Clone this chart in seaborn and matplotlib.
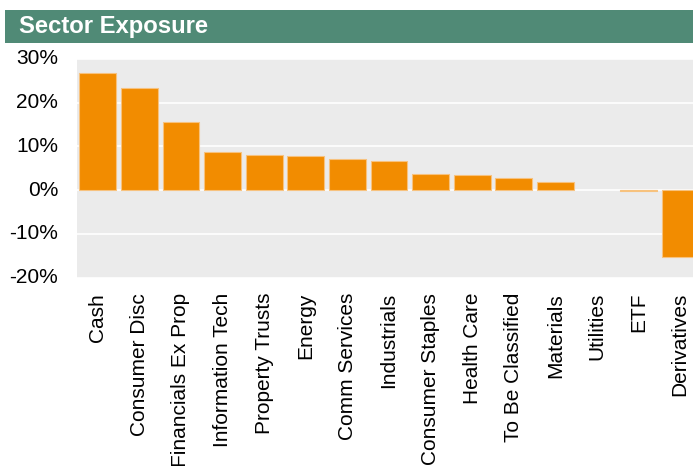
import matplotlib
matplotlib.use("Agg")
import matplotlib.pyplot as plt
import seaborn as sns
import pandas as pd
from matplotlib.patches import Rectangle
from matplotlib.ticker import FuncFormatter

categories = ["Cash", "Consumer Disc", "Financials Ex Prop", "Information Tech",
              "Property Trusts", "Energy", "Comm Services", "Industrials",
              "Consumer Staples", "Health Care", "To Be Classified", "Materials",
              "Utilities", "ETF", "Derivatives"]
values = [26.9, 23.3, 15.5, 8.7, 8.0, 7.8, 7.1, 6.6, 3.65, 3.4, 2.8, 1.9, 0.0, -0.25, -15.4]
yticks = [-20, -10, 0, 10, 20, 30]
title = "Sector Exposure"

sns.set_theme(style="darkgrid")
plt.rcParams['font.family'] = ['Liberation Sans', 'DejaVu Sans']

W, H = 693, 466
fig = plt.figure(figsize=(W / 100, H / 100), dpi=100)
fig.patch.set_facecolor("white")

# header band
fig.patches.append(Rectangle((5 / W, 1 - 43 / H), 1, 33 / H, transform=fig.transFigure,
                             facecolor="#508a76", edgecolor="none", zorder=0))
fig.text(19 / W, 1 - 26.5 / H, title, color="white", fontsize=17.2, fontweight="bold",
         va="center", ha="left")

left, right = 77, 701
top, bottom = 59, 277.5
ax = fig.add_axes([left / W, 1 - bottom / H, (right - left) / W, (bottom - top) / H])
ax.set_facecolor("#ebebeb")

df = pd.DataFrame({"sector": categories, "value": values})
sns.barplot(data=df, x="sector", y="value", color="#f28c00", saturation=1,
            width=0.88, ax=ax, edgecolor="#f7c27e", linewidth=0.8, zorder=3)
for p in ax.patches:
    if abs(p.get_height()) < 1e-9:
        p.set_visible(False)

ax.set_ylim(-20, 30)
ax.set_xlim(-0.5, len(categories) - 0.5)
ax.set_yticks(yticks)
ax.yaxis.set_major_formatter(FuncFormatter(lambda v, p: f"{v:.0f}%"))
ax.grid(axis="y", color="white", linewidth=1.2)
ax.grid(axis="x", visible=False)
ax.set_axisbelow(True)
ax.set_xlabel("")
ax.set_ylabel("")
for s in ax.spines.values():
    s.set_visible(False)
ax.tick_params(axis="y", length=0, pad=13.5, labelsize=15, labelcolor="black")
ax.tick_params(axis="x", length=0, pad=11, labelsize=15, labelcolor="black", rotation=90)
for lab in ax.get_yticklabels():
    lab.set_verticalalignment("center")

fig.savefig("out.png", dpi=100)
